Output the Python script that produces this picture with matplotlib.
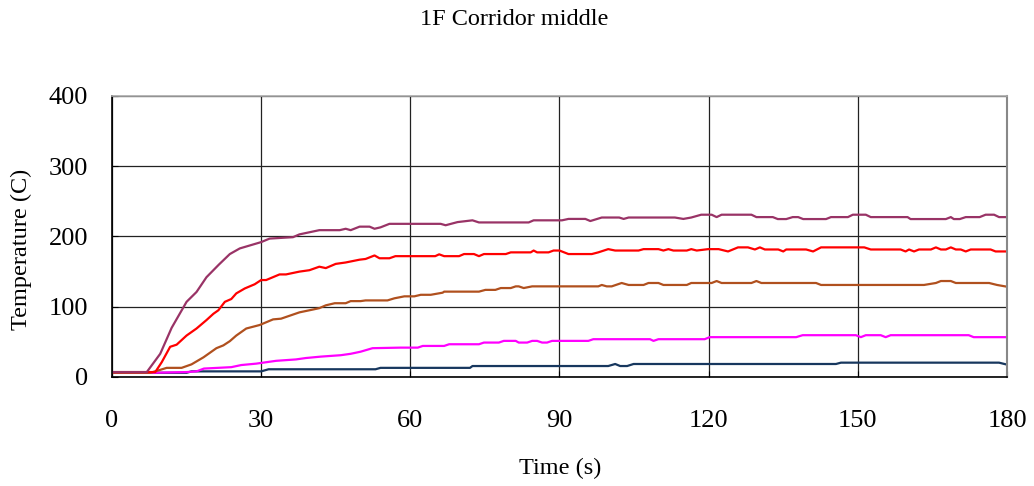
import numpy as np
import matplotlib
matplotlib.use('Agg')
import matplotlib.pyplot as plt

plt.rcParams['font.family'] = ['Liberation Serif', 'DejaVu Serif']

title = '1F Corridor middle'
x_label = 'Time (s)'
y_label = 'Temperature (C)'
x_ticks = [0, 30, 60, 90, 120, 150, 180]
y_ticks = [0, 100, 200, 300, 400]

# (time, temperature) pairs, one list per sensor
purple_pts = [(0, 7), (7, 7), (9.7, 33), (12, 70), (15, 107), (17, 121), (19, 142),
              (21.5, 160), (23.7, 175), (25.7, 183), (30, 192), (31.7, 197), (34, 198),
              (36.4, 199), (37.7, 203), (41.7, 209), (45.8, 209), (47, 211), (48, 209),
              (49.8, 214), (51.8, 214), (52.8, 211), (54, 213), (55.8, 218), (66.1, 218),
              (67.1, 216), (69.5, 220.5), (72.5, 223), (73.8, 220), (83.8, 220), (84.8, 223),
              (90.5, 223), (91.8, 225), (95.2, 225), (96.2, 222), (98.5, 227), (102, 227),
              (102.9, 225), (103.9, 227), (113.2, 227), (114.9, 225), (116.5, 227),
              (118.5, 231), (120.6, 231), (121.6, 227.6), (122.6, 231), (128.6, 231),
              (129.6, 227.6), (132.9, 227.6), (133.9, 224.8), (135.6, 224.8), (136.9, 227.6),
              (138, 227.6), (139, 224.8), (143.6, 224.8), (144.6, 227.6), (148, 227.6),
              (149, 231), (151.6, 231), (152.6, 227.6), (160, 227.6), (160.6, 224.8),
              (167.7, 224.8), (168.7, 227.6), (169.3, 224.8), (170.5, 224.8), (171.7, 227.6),
              (174.5, 227.6), (175.7, 231), (177.4, 231), (178.4, 227.6), (180, 227.6)]

red_pts = [(0, 7), (8.7, 7), (10, 21), (11.7, 43), (13, 46), (15, 59), (17, 69), (19, 81),
           (20.4, 90), (21.4, 95), (22.7, 107), (24, 111), (25, 119), (26.7, 126),
           (28.7, 132), (30, 138), (31, 138), (33.7, 146), (35, 146), (37.7, 150),
           (39.7, 152), (41.7, 157), (43, 155), (45, 161), (47, 163), (49.8, 167), (51, 168),
           (52.8, 173), (53.8, 169), (55.8, 169), (57, 172), (65, 172), (65.8, 174.6),
           (66.8, 172), (69.8, 172), (70.8, 175), (72.8, 175), (73.8, 172), (74.8, 175),
           (79.2, 175), (80.2, 177.4), (84.2, 177.4), (84.8, 180), (85.5, 177.4),
           (87.8, 177.4), (88.8, 180), (90, 180), (91.8, 175), (96.5, 175), (97.8, 177.4),
           (99.8, 182), (101.2, 180), (105.9, 180), (106.9, 182), (109.9, 182), (110.9, 180),
           (111.9, 182), (112.9, 180), (115.6, 180), (116.5, 182), (117.6, 180), (119.9, 182),
           (122, 182), (123.9, 178.7), (125.9, 184.5), (127.9, 184.5), (129.3, 181.5),
           (130.3, 184.5), (131.3, 181.5), (134, 181.5), (135, 178.7), (135.6, 181.5),
           (139.6, 181.5), (141, 178.7), (142.6, 184.5), (151.3, 184.5), (152.6, 181.5),
           (158.6, 181.5), (159.6, 178.7), (160.3, 181.5), (161.3, 178.7), (162.3, 181.5),
           (164.7, 181.5), (165.7, 184.5), (166.7, 181.5), (167.7, 181.5), (168.7, 184.5),
           (169.7, 181.5), (170.7, 181.5), (171.7, 178.7), (172.7, 181.5), (176.7, 181.5),
           (177.7, 178.7), (180, 178.7)]

brown_pts = [(0, 6), (7.7, 6), (9.4, 9.5), (11, 13), (14, 13), (16, 18), (18.4, 28),
             (21, 41), (22.4, 45), (23.7, 51), (25, 59), (27, 69), (29.7, 74), (32.4, 82),
             (34, 83), (37.7, 92), (40.4, 96), (41.7, 98), (43, 102), (44.8, 105), (47, 105),
             (48, 108), (50, 108), (51, 109), (55.4, 109), (56.8, 112), (58.8, 114.8),
             (60.8, 114.8), (62.1, 117), (64.1, 117), (66.5, 120), (66.8, 121.5),
             (73.8, 121.5), (75.1, 124), (77.1, 124), (78.2, 126.6), (80.2, 126.6),
             (81.2, 129), (81.8, 129), (82.8, 126.6), (84.5, 129), (97.8, 129), (98.5, 131),
             (99.5, 129), (100.5, 129), (102.5, 133.8), (103.9, 131), (106.9, 131),
             (107.9, 133.8), (109.9, 133.8), (110.9, 131), (115.6, 131), (116.5, 133.8),
             (120.6, 133.8), (121.6, 136.6), (122.6, 133.8), (128.6, 133.8), (129.6, 136.6),
             (130.6, 133.8), (141.6, 133.8), (142.6, 131), (163.3, 131), (165.7, 133.8),
             (166.7, 136.6), (168.7, 136.6), (169.7, 133.8), (176.4, 133.8), (178, 131),
             (180, 128.5)]

magenta_pts = [(0, 6), (8, 6), (15, 7), (17, 8), (18.5, 12), (24, 14), (26, 17), (29, 19),
               (31, 21), (33, 23), (37, 25), (39, 27), (42, 29), (46, 31), (48, 33),
               (50, 36), (52.4, 41), (58, 41.8), (61.5, 41.8), (62.5, 44.2), (66.8, 44.2),
               (67.8, 46.6), (73.8, 46.6), (74.8, 49), (77.8, 49), (78.8, 51.4), (81.2, 51.4),
               (81.8, 49), (83.5, 49), (84.5, 51.4), (85.5, 51.4), (86.5, 49), (87.5, 49),
               (88.5, 51.4), (95.8, 51.4), (96.8, 53.8), (108.2, 53.8), (108.9, 51.4),
               (109.9, 53.8), (119.2, 53.8), (120.2, 56.7), (137.6, 56.7), (138.9, 59.5),
               (149.6, 59.5), (150.6, 56.7), (151.6, 59.5), (154.6, 59.5), (155.6, 56.7),
               (156.6, 59.5), (172.3, 59.5), (173.3, 56.7), (180, 56.7)]

blue_pts = [(0, 6), (15, 6), (16, 8), (30, 8), (31.5, 11), (53, 11), (54, 13), (72, 13),
            (72.5, 15.6), (99.8, 15.6), (101.2, 18.5), (102.2, 15.6), (103.6, 15.6),
            (104.9, 18.5), (145.6, 18.5), (146.6, 20.4), (178.4, 20.4), (180, 17.6)]

series = [
    (blue_pts, '#17375E'),
    (magenta_pts, '#FF00FF'),
    (brown_pts, '#B0501E'),
    (red_pts, '#FF0000'),
    (purple_pts, '#993366'),
]

fig = plt.figure(figsize=(10.34, 4.86), dpi=100)
ax = fig.add_axes([0.1083, 0.2243, 0.8656, 0.5782])

for pts, col in series:
    arr = np.array(pts)
    ax.plot(arr[:, 0], arr[:, 1], color=col, lw=1.6)

ax.set_xlim(0, 180)
ax.set_ylim(0, 400)
ax.set_xticks(x_ticks)
ax.set_yticks(y_ticks)
ax.grid(True, color='#222222', lw=0.9)
ax.set_axisbelow(True)
ax.tick_params(direction='in', length=4, labelsize=19)
ax.tick_params(axis='x', pad=24)
ax.tick_params(axis='y', pad=17)

ax.spines['left'].set_color('black')
ax.spines['bottom'].set_color('black')
ax.spines['left'].set_linewidth(1.2)
ax.spines['bottom'].set_linewidth(1.2)
ax.spines['top'].set_color('#aaaaaa')
ax.spines['right'].set_color('#888888')
ax.spines['top'].set_linewidth(1.2)
ax.spines['right'].set_linewidth(1.5)

fig.text(0.497, 0.959, title, ha='center', va='center', fontsize=17.5)
fig.text(0.5416, 0.037, x_label, ha='center', va='center', fontsize=17.5)
fig.text(0.021, 0.487, y_label, ha='center', va='center', rotation=90, fontsize=17.5)

fig.savefig('out.png', dpi=100)
